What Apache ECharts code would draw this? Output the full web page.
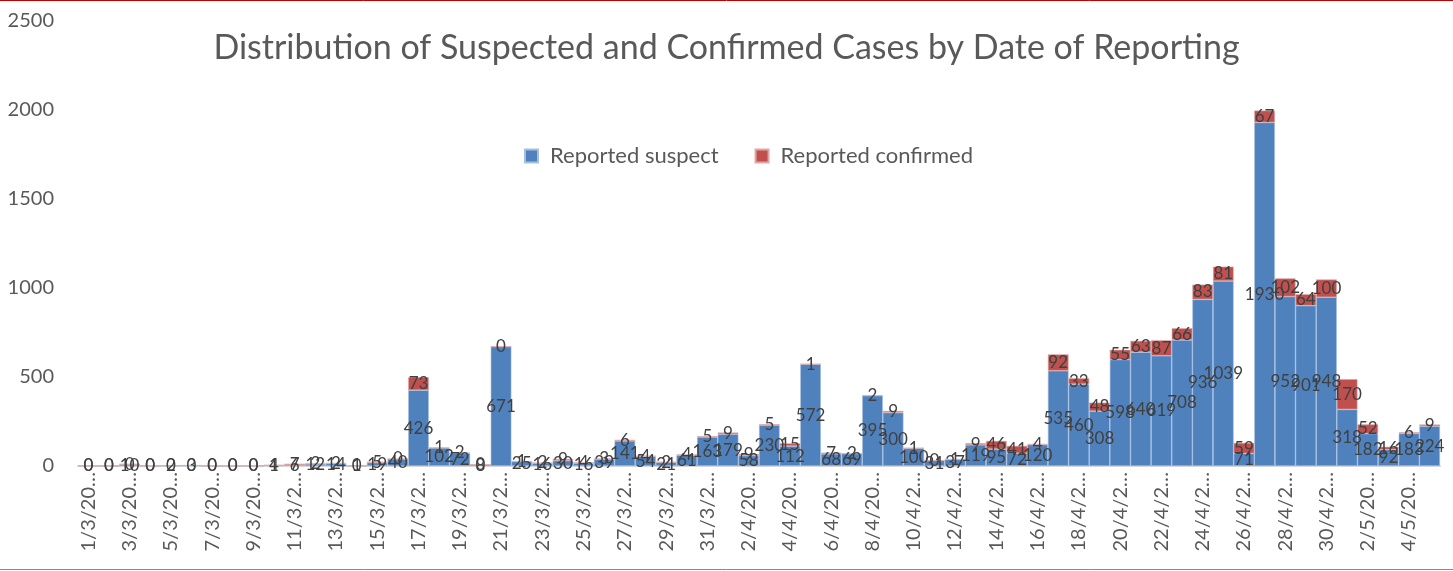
<!DOCTYPE html>
<html>
<head>
<meta charset="utf-8">
<title>Distribution of Suspected and Confirmed Cases</title>
<script src="https://cdn.jsdelivr.net/npm/echarts@6/dist/echarts.min.js"></script>
<style>
  html, body { margin: 0; padding: 0; background: #fff; }
  #chart { width: 1453px; height: 571px; }
</style>
</head>
<body>
<div id="chart"></div>
<script>
// dates of reporting, 1/3/2020 .. 5/5/2020
const dates = [];
const monthDays = [[3, 31], [4, 30], [5, 5]];
monthDays.forEach(([m, n]) => {
  for (let d = 1; d <= n; d++) dates.push(d + '/' + m + '/2020');
});

const suspect = [
  0, 0, 10, 0, 2, 3, 0, 0, 0, 4,
  6, 12, 14, 1, 19, 40, 426, 102, 72, 8,
  671, 25, 16, 30, 16, 39, 141, 54, 21, 61,
  163, 179, 58, 230, 112, 572, 68, 69, 395, 300,
  100, 31, 37, 119, 95, 72, 120, 535, 460, 308,
  598, 640, 619, 708, 936, 1039, 71, 1930, 952, 901,
  948, 318, 182, 92, 183, 224
];

const confirmed = [
  0, 0, 0, 0, 0, 0, 0, 0, 0, 1,
  7, 2, 2, 0, 5, 0, 73, 1, 2, 0,
  0, 1, 2, 9, 4, 3, 6, 4, 2, 4,
  5, 9, 9, 5, 15, 1, 7, 2, 2, 9,
  1, 0, 1, 9, 46, 41, 4, 92, 33, 48,
  55, 63, 87, 66, 83, 81, 59, 67, 102, 64,
  100, 170, 52, 16, 6, 9
];

const yTicks = { min: 0, max: 2500, interval: 500 };

const chart = echarts.init(document.getElementById('chart'));

const labelStyle = {
  show: true,
  position: 'inside',
  color: '#404040',
  fontFamily: 'Lato',
  fontSize: 17
};

chart.setOption({
  textStyle: { fontFamily: 'Lato' },
  animation: false,
  title: {
    text: 'Distribution of Suspected and Confirmed Cases by Date of Reporting',
    left: 'center',
    top: 26,
    textStyle: {
      color: '#595959',
      fontFamily: 'Lato',
      fontWeight: 'normal',
      fontSize: 34
    }
  },
  legend: {
    data: ['Reported suspect', 'Reported confirmed'],
    top: 140,
    left: 519,
    itemWidth: 13,
    itemHeight: 13,
    itemGap: 36,
    icon: 'rect',
    textStyle: { color: '#595959', fontSize: 22, fontFamily: 'Lato', padding: [0, 0, 0, 7] }
  },
  grid: { left: 78, right: 13, top: 21, bottom: 105 },
  xAxis: {
    type: 'category',
    data: dates,
    axisLine: { lineStyle: { color: '#d9d9d9', width: 2 } },
    axisTick: { show: false },
    axisLabel: {
      interval: 1,
      rotate: 90,
      color: '#595959',
      fontSize: 20,
      margin: 6,
      formatter: v => v.slice(0, 6) + '\u2026'
    }
  },
  yAxis: {
    type: 'value',
    min: yTicks.min,
    max: yTicks.max,
    interval: yTicks.interval,
    axisLine: { show: false },
    axisTick: { show: false },
    splitLine: { show: false },
    axisLabel: { color: '#595959', fontSize: 20, margin: 24, formatter: v => String(v) }
  },
  series: [
    {
      name: 'Reported suspect',
      type: 'bar',
      stack: 'cases',
      data: suspect,
      barCategoryGap: 0,
      itemStyle: { color: '#4f81bd', borderColor: '#a7bfdf', borderWidth: 0.6 },
      label: labelStyle
    },
    {
      name: 'Reported confirmed',
      type: 'bar',
      stack: 'cases',
      data: confirmed,
      barCategoryGap: 0,
      itemStyle: { color: '#c0504d', borderColor: '#dfa7a6', borderWidth: 0.6 },
      label: labelStyle
    }
  ],
  graphic: [
    { type: 'line', shape: { x1: 0, y1: 0.5, x2: 1453, y2: 0.5 }, style: { stroke: '#c00000', lineWidth: 1 } },
    { type: 'line', shape: { x1: 0, y1: 569.5, x2: 1453, y2: 569.5 }, style: { stroke: '#e06666', lineWidth: 1 } }
  ]
});
</script>
</body>
</html>
